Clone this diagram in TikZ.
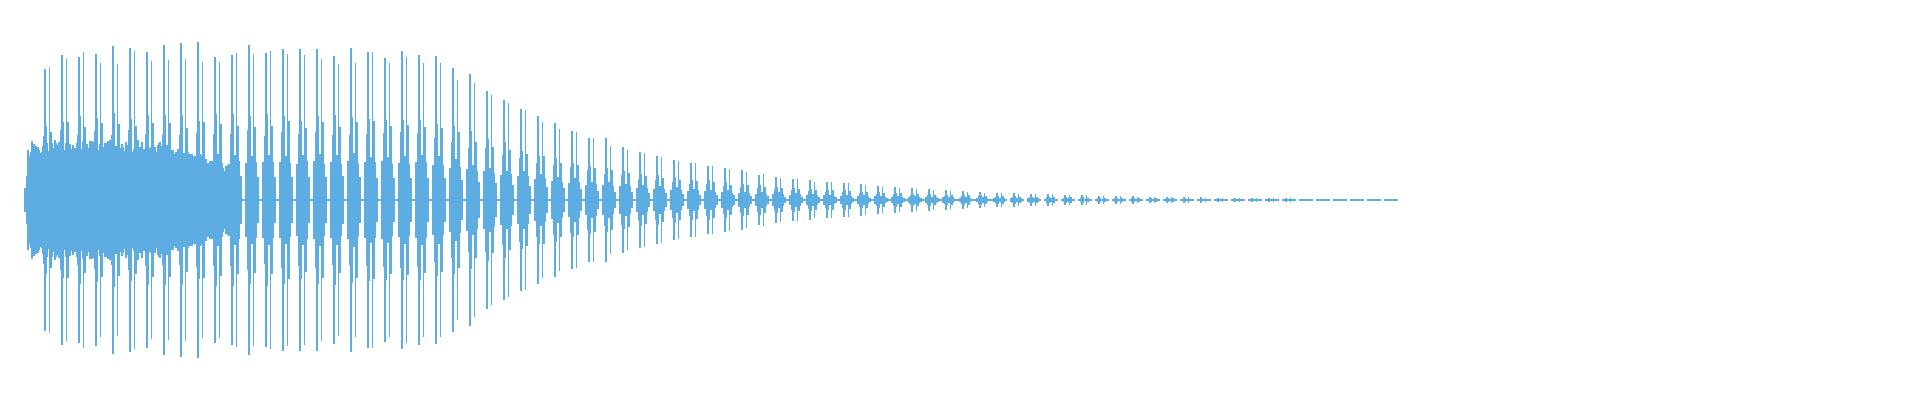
\documentclass[tikz,border=0pt]{standalone}
\definecolor{wave}{RGB}{93,173,226}
\begin{document}
\begin{tikzpicture}[x=0.01cm,y=-0.01cm,wl/.style={draw=wave,line width=0.45pt}]
\useasboundingbox (0,0) rectangle (1920,400);
\pgfmathsetseed{7}
\draw[wl,line width=0.3pt] (25,200) -- (1000,200);
\foreach \x in {25,26,...,230}{
  \pgfmathsetmacro\h{(\x<160 ? 60 : 60-(\x-160)*0.35)*min(1,(\x-24)/8)*(0.75+0.25*rnd)}
  \draw[wl] (\x,200-\h) -- (\x,200+\h);
}
\foreach \b in {0,...,80}{
  \pgfmathsetmacro\bx{25+17*\b}
  \pgfmathsetmacro\A{(\bx<425 ? 158 : max(1.2,158*exp(-(\bx-425)/190)))*min(1,(\bx-15)/30)}
  \foreach \o/\f in {0/0.25,1.5/0.45,3/1,4.5/0.55,6/0.3,7.5/0.95,9/0.5,10.5/0.25,12/0.15}{
    \pgfmathsetmacro\h{max(0.8,\A*\f*(0.9+0.1*rnd))}
    \draw[wl] (\bx+\o,200-\h) -- (\bx+\o,200+\h);
  }
  \draw[wl,line width=0.3pt] (\bx,200) -- (\bx+13,200);
}
\end{tikzpicture}
\end{document}
